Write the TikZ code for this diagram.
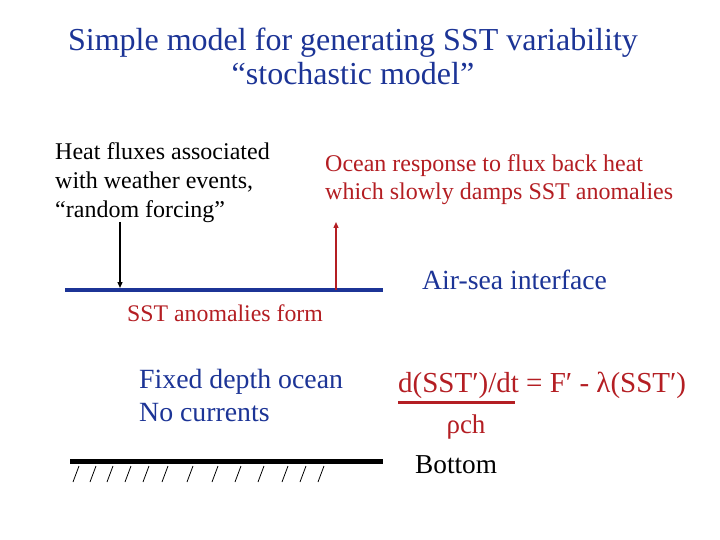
\documentclass[tikz,border=0pt]{standalone}
\usepackage{fontspec}
\setmainfont{Liberation Serif}
\usetikzlibrary{positioning,arrows.meta}

\definecolor{titleblue}{RGB}{28,52,150}
\definecolor{fluxred}{RGB}{180,30,35}

\tikzset{
  txt/.style={inner sep=0pt,align=left},
  flux/.style={line width=1.3pt,-{Triangle[length=6pt,width=5pt]}},
}

\begin{document}
\begin{tikzpicture}[x=1pt,y=-1pt]
\useasboundingbox[fill=white] (0,0) rectangle (720,540);

% Title
\node[txt,align=center,titleblue,font=\fontsize{32}{34}\selectfont,anchor=north] (title) at (353,28)
  {Simple model for generating SST variability\\“stochastic model”};

% Forcing and damping texts
\node[txt,anchor=north west,font=\fontsize{24}{29}\selectfont] (forcing) at (55,142)
  {Heat fluxes associated\\with weather events,\\“random forcing”};
\node[txt,anchor=north west,fluxred,font=\fontsize{24}{28}\selectfont] (damping) at (325,154)
  {Ocean response to flux back heat\\which slowly damps SST anomalies};

% Air-sea interface
\coordinate (surfW) at (65,290);
\coordinate (surfE) at (383,290);
\draw[titleblue,line width=3.2pt] (surfW) -- (surfE);
\node[txt,anchor=base west,titleblue,font=\fontsize{27.7}{32}\selectfont] (iface) at (422,289) {Air-sea interface};
\node[txt,anchor=base west,fluxred,font=\fontsize{23.8}{28}\selectfont] (anom) at (127,321) {SST anomalies form};

% Heat flux arrows
\coordinate (forceTop) at (120,222);
\coordinate (forceEnd) at (120,288);
\draw[flux] (forceTop) -- (forceEnd);
\coordinate (dampBase) at (336,290);
\coordinate (dampTop) at (336,222);
\draw[flux,fluxred] (dampBase) -- (dampTop);

% Ocean layer
\node[txt,anchor=north west,titleblue,font=\fontsize{27.8}{33}\selectfont] (layer) at (139,369)
  {Fixed depth ocean\\No currents};

% Equation
\node[txt,anchor=base west,fluxred,font=\fontsize{29}{32}\selectfont] (eqn) at (398,392)
  {d(SST′)/dt = F′ - λ(SST′)};
\coordinate (fracW) at (398,402);
\coordinate (fracE) at (515,402);
\draw[fluxred,line width=3pt] (fracW) -- (fracE);
\node[txt,anchor=base,fluxred,font=\fontsize{27}{30}\selectfont] (denom) at (466,433) {ρch};

% Bottom
\coordinate (botW) at (70,461);
\coordinate (botE) at (383,461);
\draw[line width=5pt] (botW) -- (botE);
\foreach \hx in {73,90,107,125,143,162,187,212,235,258,282,300,318}
  \draw[line width=0.8pt] (\hx,482) -- ++(6,-16);
\node[txt,anchor=base west,font=\fontsize{27.3}{30}\selectfont] (bottom) at (415,473) {Bottom};
\end{tikzpicture}
\end{document}
